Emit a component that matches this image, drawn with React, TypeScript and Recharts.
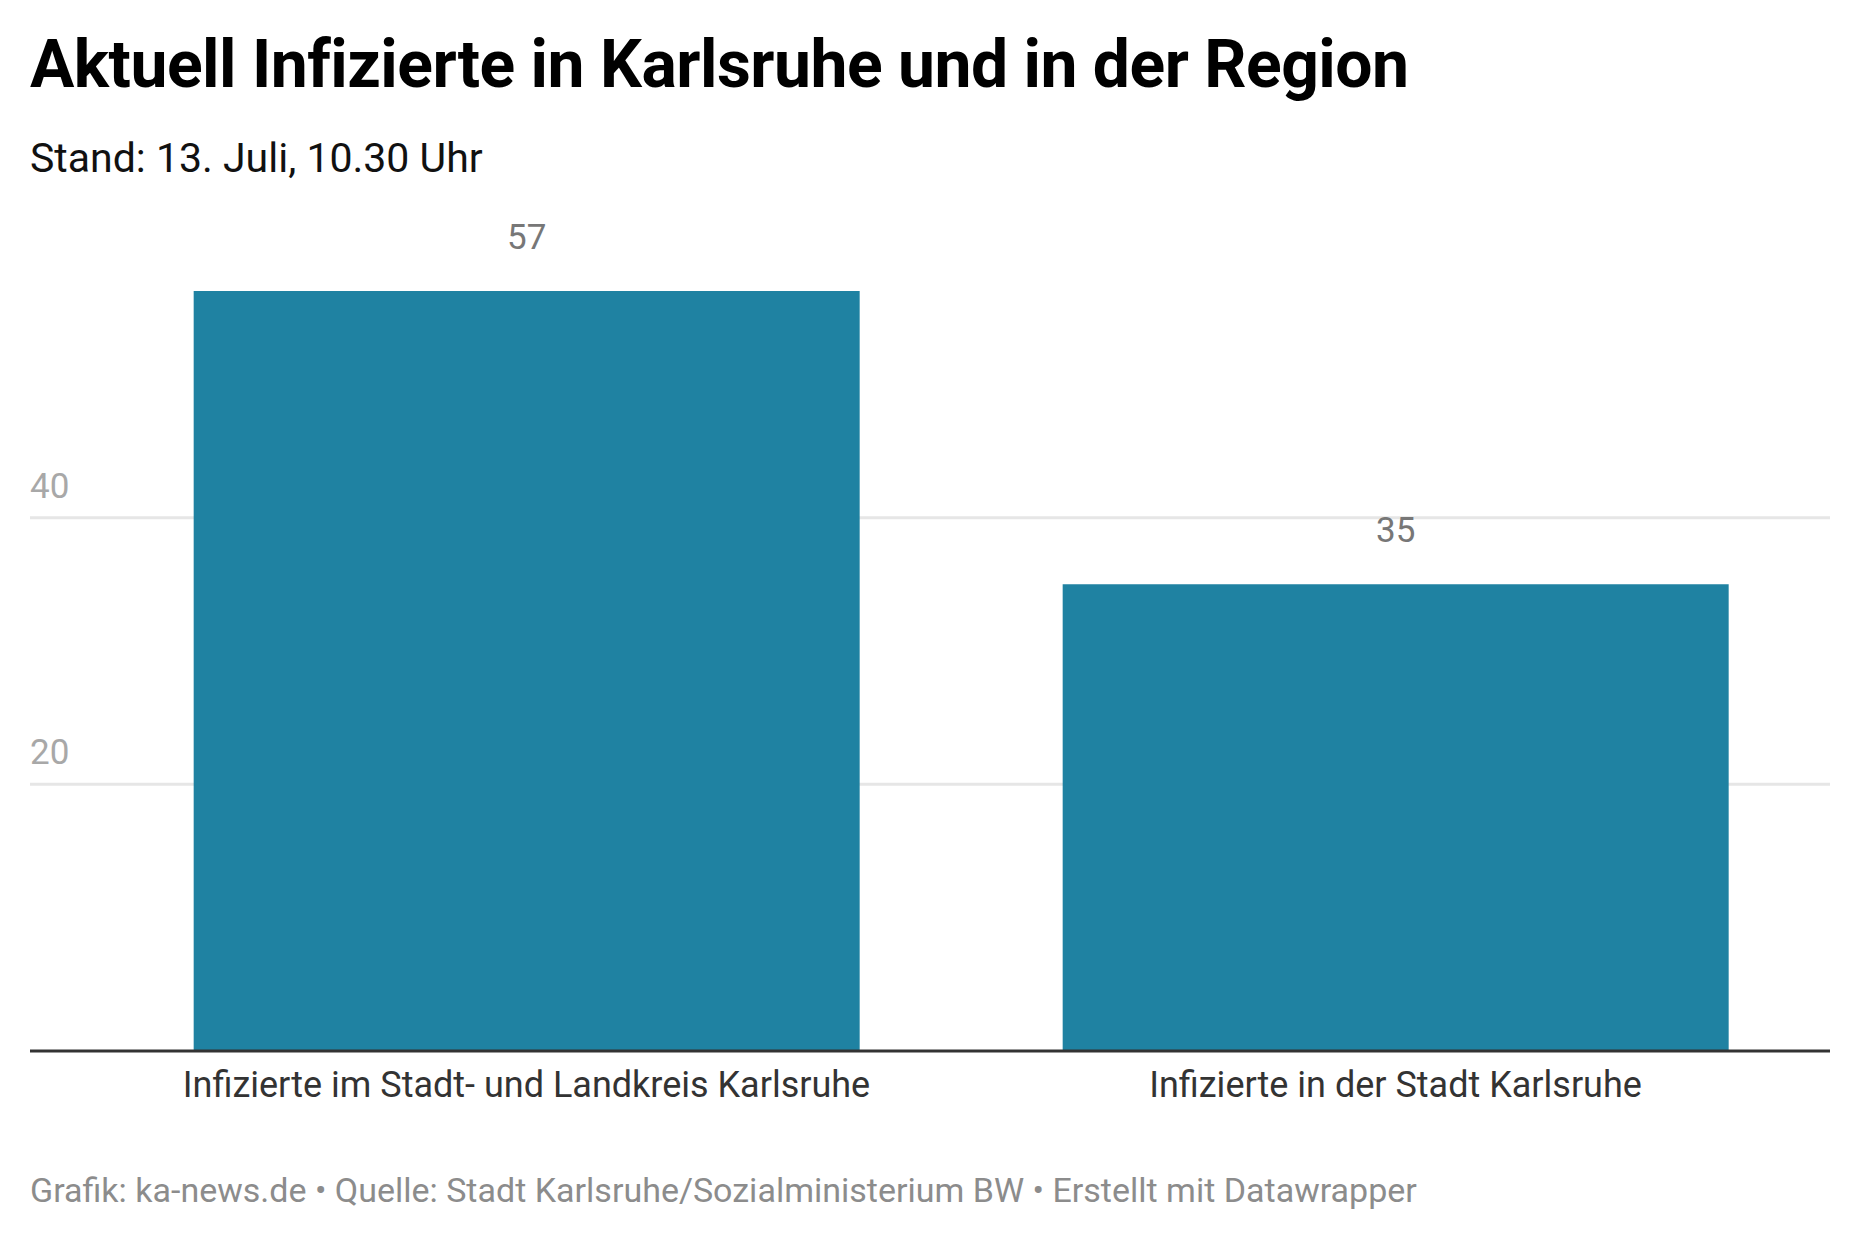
import { Bar, BarChart, CartesianGrid, LabelList, XAxis, YAxis } from "recharts";

const categories = ["Infizierte im Stadt- und Landkreis Karlsruhe", "Infizierte in der Stadt Karlsruhe"];
const infected = [57, 35];
const yTicks = [20, 40];

const data = categories.map((name, i) => ({ name, value: infected[i] }));

function YTick({ y, payload }: any) {
  return (
    <text x={30} y={y - 20} fontSize={35} fill="#a8a8a8" fontFamily="Roboto">
      {payload.value}
    </text>
  );
}

export default function App() {
  return (
    <div style={{ position: "relative", width: 1860, height: 1260, margin: -8, background: "#fff", fontFamily: "Roboto" }}>
      <div style={{ position: "absolute", left: 30, top: 26, fontSize: 66, fontWeight: 700, color: "#000", letterSpacing: -0.5 }}>
        Aktuell Infizierte in Karlsruhe und in der Region
      </div>
      <div style={{ position: "absolute", left: 30, top: 134, fontSize: 41, color: "#111" }}>Stand: 13. Juli, 10.30 Uhr</div>
      <div style={{ position: "absolute", left: 0, top: 0 }}>
        <BarChart width={1860} height={1260} data={data} margin={{ top: 251, right: 30, bottom: 129, left: 29 }} barCategoryGap="11.7%">
          <CartesianGrid vertical={false} horizontalValues={yTicks} stroke="#e6e6e6" strokeWidth={3} />
          <XAxis
            dataKey="name"
            padding={{ left: 62, right: 0 }}
            axisLine={{ stroke: "#333", strokeWidth: 3 }}
            tickLine={false}
            tick={{ fontSize: 36, fill: "#333", fontFamily: "Roboto" }}
            tickMargin={14}
            height={80}
          />
          <YAxis
            width={1}
            domain={[0, 60]}
            ticks={yTicks}
            axisLine={false}
            tickLine={false}
            tick={(p: any) => <YTick {...p} />}
          />
          <Bar dataKey="value" fill="#1f82a2" isAnimationActive={false}>
            <LabelList dataKey="value" position="top" offset={42} fontSize={35} fill="#777" fontFamily="Roboto" />
          </Bar>
        </BarChart>
      </div>
      <div style={{ position: "absolute", left: 30, top: 1170, fontSize: 34, color: "#8c8c8c" }}>
        Grafik: ka-news.de • Quelle: Stadt Karlsruhe/Sozialministerium BW • Erstellt mit Datawrapper
      </div>
    </div>
  );
}
